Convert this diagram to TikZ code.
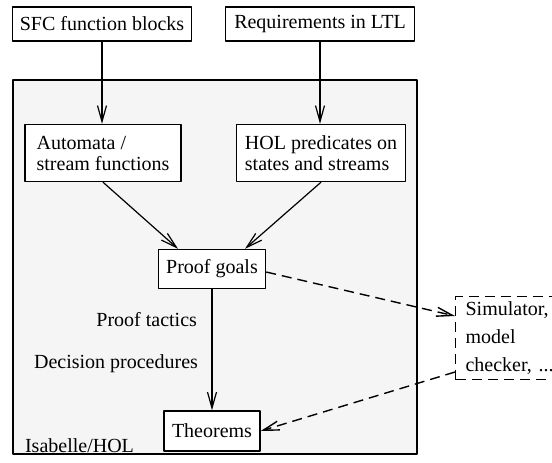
\documentclass[tikz,border=0pt]{standalone}
\usepackage{fontspec}
\setmainfont{Liberation Serif}
\usetikzlibrary{arrows.meta}
\tikzset{
	box/.style={draw,line width=0.7pt,fill=white,inner sep=0pt},
	dbox/.style={draw,line width=0.6pt,dash pattern=on 5pt off 3pt,inner sep=0pt},
	flow/.style={->,line width=0.6pt},
	dflow/.style={->,line width=0.7pt,dash pattern=on 5pt off 3pt},
}
\begin{document}
\begin{tikzpicture}[x=0.5pt,y=-0.5pt,line join = round,>={Straight Barb[length=8pt,width=4.5pt]},font=\fontsize{10}{10.5}\selectfont]
		\useasboundingbox (0,0) rectangle (552,462);
		%		\draw (0,0) grid[step=50] (552,462);
		\draw[line width=0.7pt,fill=gray!8] (13,80) rectangle (417,454);
		\node[right] (isa) at (18,446) {Isabelle/HOL};
		
		\node[box,minimum width=89.5pt,minimum height=17pt] (sfc) at (102,24) {SFC function blocks};
		\node[box,minimum width=94.5pt,minimum height=17pt] (req) at (320,24) {Requirements in LTL};
		\node[box,minimum width=78pt,minimum height=28.5pt,align=left] (aut) at (103,153) {Automata /\\stream functions};
		\node[box,minimum width=84.5pt,minimum height=28.5pt,align=left] (hol) at (321,153) {HOL predicates on\\states and streams};
		\node[box,minimum width=53.5pt,minimum height=19.5pt] (pg) at (212,269) {Proof goals};
		\node[box,minimum width=48pt,minimum height=20pt] (thm) at (212,431) {Theorems};
		\node[dbox,minimum width=60pt,minimum height=41.5pt,anchor=west,align=left,
			text width=55pt,inner xsep=5pt,font=\fontsize{10}{14}\selectfont] (sim) at (455,338) {Simulator,\\model\\checker, ...};
		
		\node[left] (tac) at (204,320) {Proof tactics};
		\node[left] (dec) at (205,364) {Decision procedures};
		
		\draw[flow] (sfc.south) -- (sfc.south |- aut.north);
		\draw[flow] (req.south) -- (req.south |- hol.north);
		\draw[flow] (aut.south) -- ([xshift=-17pt]pg.north);
		\draw[flow] (hol.south) -- ([xshift=16.5pt]pg.north);
		\draw[flow] (pg.south) -- (thm.north);
		\draw[dflow] ([yshift=-1.5pt]pg.east) -- ([yshift=11pt]sim.west);
		\draw[dflow] ([yshift=-17pt]sim.west) -- (thm.east);
	\end{tikzpicture}
\end{document}
